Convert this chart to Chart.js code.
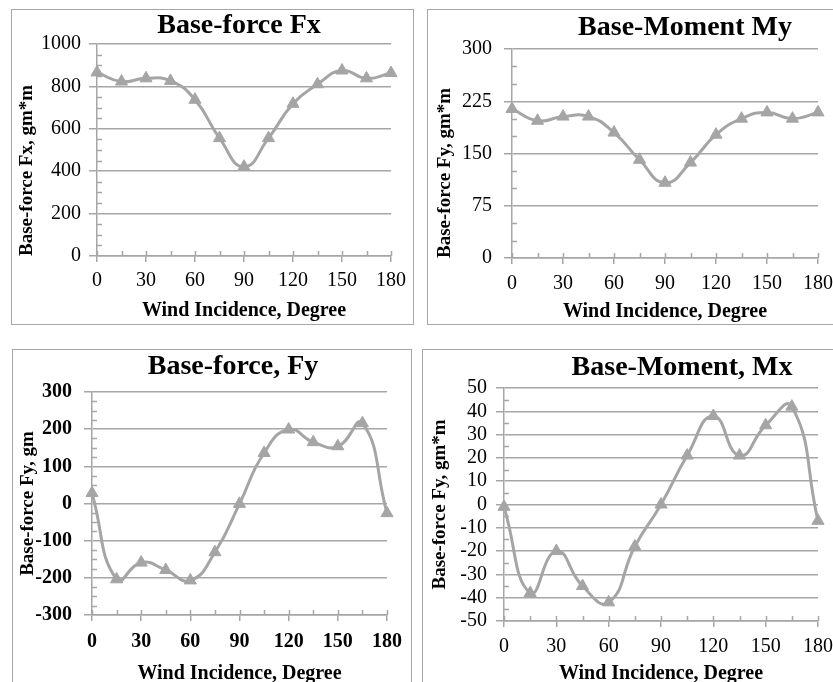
<!DOCTYPE html>
<html>
<head>
<meta charset="utf-8">
<script src="https://cdn.jsdelivr.net/npm/chart.js@4.4.1/dist/chart.umd.min.js"></script>
<style>
  html, body { margin: 0; padding: 0; background: #fff; width: 833px; height: 682px; overflow: hidden; }
  .chart-card { position: absolute; border: 1px solid #a6a6a6; background: #fff; overflow: hidden; }
  .chart-card canvas { position: absolute; left: 0; top: 0; }
  .chart-title {
    position: absolute; width: 340px; text-align: center; white-space: nowrap;
    font: bold 28px 'Liberation Serif', 'Times New Roman', serif; line-height: 28px; color: #000;
  }
</style>
</head>
<body>
<script>
// wind incidence angles, degrees
const ANGLES = [0, 15, 30, 45, 60, 75, 90, 105, 120, 135, 150, 165, 180];
const X_TICKS = [0, 30, 60, 90, 120, 150, 180];

// values
const FX_VALUES = [866, 823, 838, 826, 737, 556, 421, 556, 718, 810, 875, 838, 863];
const MY_VALUES = [214, 197, 203, 203, 180, 141, 108, 137, 177, 200, 209, 200, 209];
const FY_VALUES = [28, -204, -159, -179, -207, -131, -1, 136, 199, 165, 154, 216, -26];
const MX_VALUES = [-1, -38, -20, -35, -42, -18, 0, 21, 38, 21, 34, 42, -7];

const FX_TICKS = [0, 200, 400, 600, 800, 1000];
const MY_TICKS = [0, 75, 150, 225, 300];
const FY_TICKS = [-300, -200, -100, 0, 100, 200, 300];
const MX_TICKS = [-50, -40, -30, -20, -10, 0, 10, 20, 30, 40, 50];

const GRAY = '#a6a6a6';
const LINE_GRAY = '#a5a5a5';
const SERIF = "'Liberation Serif', 'Times New Roman', serif";

const PANELS = [
  { title: 'Base-force Fx', cx: 239, cy: 24, box: [11, 9, 403, 316],
    values: FX_VALUES, yTicks: FX_TICKS, minor: 50, yTitle: 'Base-force Fx, gm*m', yAlign: 'start',
    pad: { top: 34, right: 15 }, yWidth: 85, xHeight: 68,
    yTickPad: 8, xTickPad: 7, yTitlePad: 4, xTitlePad: 1, bold: false },
  { title: 'Base-Moment My', cx: 685, cy: 26, box: [427, 9, 420, 316],
    values: MY_VALUES, yTicks: MY_TICKS, minor: 25, yTitle: 'Base-force Fy, gm*m', yAlign: 'start',
    pad: { top: 39, right: 28 }, yWidth: 84, xHeight: 66,
    yTickPad: 12, xTickPad: 8, yTitlePad: 6, xTitlePad: 0, bold: false },
  { title: 'Base-force, Fy', cx: 233, cy: 365, box: [12, 349, 400, 340],
    values: FY_VALUES, yTicks: FY_TICKS, minor: 25, yTitle: 'Base-force Fy, gm', yAlign: 'center',
    pad: { top: 42, right: 17 }, yWidth: 79, xHeight: 73,
    yTickPad: 12, xTickPad: 9, yTitlePad: 4, xTitlePad: 2, bold: true },
  { title: 'Base-Moment, Mx', cx: 682, cy: 366, box: [422, 349, 420, 340],
    values: MX_VALUES, yTicks: MX_TICKS, minor: 5, yTitle: 'Base-force Fy, gm*m', yAlign: 'center',
    pad: { top: 38, right: 19 }, yWidth: 81, xHeight: 67,
    yTickPad: 9, xTickPad: 8, yTitlePad: 6, xTitlePad: 2, bold: false },
];

// Excel-style minor tick marks, drawn on the inner side of the axes
const minorTicks = {
  id: 'minorTicks',
  beforeDatasetsDraw(chart, args, opts) {
    const { ctx, scales: { x, y } } = chart;
    ctx.save();
    ctx.strokeStyle = GRAY;
    ctx.lineWidth = 1.5;
    ctx.beginPath();
    y.ticks.forEach((t) => {
      if (opts.yMajor.includes(t.value)) return;
      const py = Math.round(y.getPixelForValue(t.value)) + 0.5;
      ctx.moveTo(x.left, py);
      ctx.lineTo(x.left + 5, py);
    });
    x.ticks.forEach((t) => {
      const px = Math.round(x.getPixelForValue(t.value)) + 0.5;
      ctx.moveTo(px, y.bottom);
      ctx.lineTo(px, y.bottom - 5);
    });
    ctx.stroke();
    ctx.restore();
  },
};

function buildPanel(p) {
  const [left, top, w, h] = p.box;
  const card = document.createElement('div');
  card.className = 'chart-card';
  card.style.cssText = `left:${left}px;top:${top}px;width:${w - 2}px;height:${h - 2}px;`;
  const canvas = document.createElement('canvas');
  canvas.width = w - 2;
  canvas.height = h - 2;
  canvas.style.width = (w - 2) + 'px';
  canvas.style.height = (h - 2) + 'px';
  card.appendChild(canvas);
  document.body.appendChild(card);

  const title = document.createElement('div');
  title.className = 'chart-title';
  title.textContent = p.title;
  title.style.left = (p.cx - 170) + 'px';
  title.style.top = (p.cy - 14) + 'px';
  document.body.appendChild(title);

  const tickFont = { family: SERIF, size: 20, weight: p.bold ? 'bold' : 'normal' };
  const yMin = p.yTicks[0];
  const yMax = p.yTicks[p.yTicks.length - 1];

  new Chart(canvas, {
    type: 'line',
    plugins: [minorTicks],
    data: {
      datasets: [{
        data: ANGLES.map((a, i) => ({ x: a, y: p.values[i] })),
        borderColor: LINE_GRAY,
        borderWidth: 3,
        tension: 0.5,
        fill: false,
        pointStyle: 'triangle',
        pointRadius: 7,
        pointBackgroundColor: LINE_GRAY,
        pointBorderColor: LINE_GRAY,
        pointBorderWidth: 1,
        clip: false,
      }],
    },
    options: {
      responsive: false,
      animation: false,
      layout: { padding: { left: 0, top: p.pad.top, right: p.pad.right, bottom: 0 } },
      plugins: {
        legend: { display: false },
        tooltip: { enabled: false },
        title: { display: false },
        minorTicks: { yMajor: p.yTicks },
      },
      scales: {
        x: {
          type: 'linear',
          min: 0,
          max: 180,
          afterFit: (s) => { s.height = p.xHeight; },
          ticks: {
            stepSize: 15,
            autoSkip: false,
            maxRotation: 0,
            padding: p.xTickPad,
            color: '#000',
            font: tickFont,
            callback: (v) => (X_TICKS.includes(v) ? v : ''),
          },
          grid: {
            drawOnChartArea: false,
            color: GRAY,
            tickColor: (ctx) => (ctx.tick && X_TICKS.includes(ctx.tick.value) ? GRAY : 'rgba(0,0,0,0)'),
            tickLength: 6,
            lineWidth: 1.5,
          },
          border: { color: GRAY, width: 1.5 },
          title: {
            display: true,
            text: 'Wind Incidence, Degree',
            color: '#000',
            font: { family: SERIF, size: 20, weight: 'bold' },
            padding: { top: 0, bottom: p.xTitlePad },
          },
        },
        y: {
          min: yMin,
          max: yMax,
          afterFit: (s) => { s.width = p.yWidth; },
          ticks: {
            stepSize: p.minor,
            autoSkip: false,
            padding: p.yTickPad,
            color: '#000',
            font: tickFont,
            callback: (v) => (p.yTicks.includes(v) ? v : ''),
          },
          grid: {
            color: (ctx) => (ctx.tick && p.yTicks.includes(ctx.tick.value) ? GRAY : 'rgba(0,0,0,0)'),
            tickLength: 8,
            lineWidth: 1.5,
          },
          border: { color: GRAY, width: 1.5 },
          title: {
            display: true,
            text: p.yTitle,
            align: p.yAlign,
            color: '#000',
            font: { family: SERIF, size: 19, weight: 'bold' },
            padding: { top: p.yTitlePad, bottom: 0 },
          },
        },
      },
    },
  });
}

PANELS.forEach(buildPanel);
</script>
</body>
</html>
